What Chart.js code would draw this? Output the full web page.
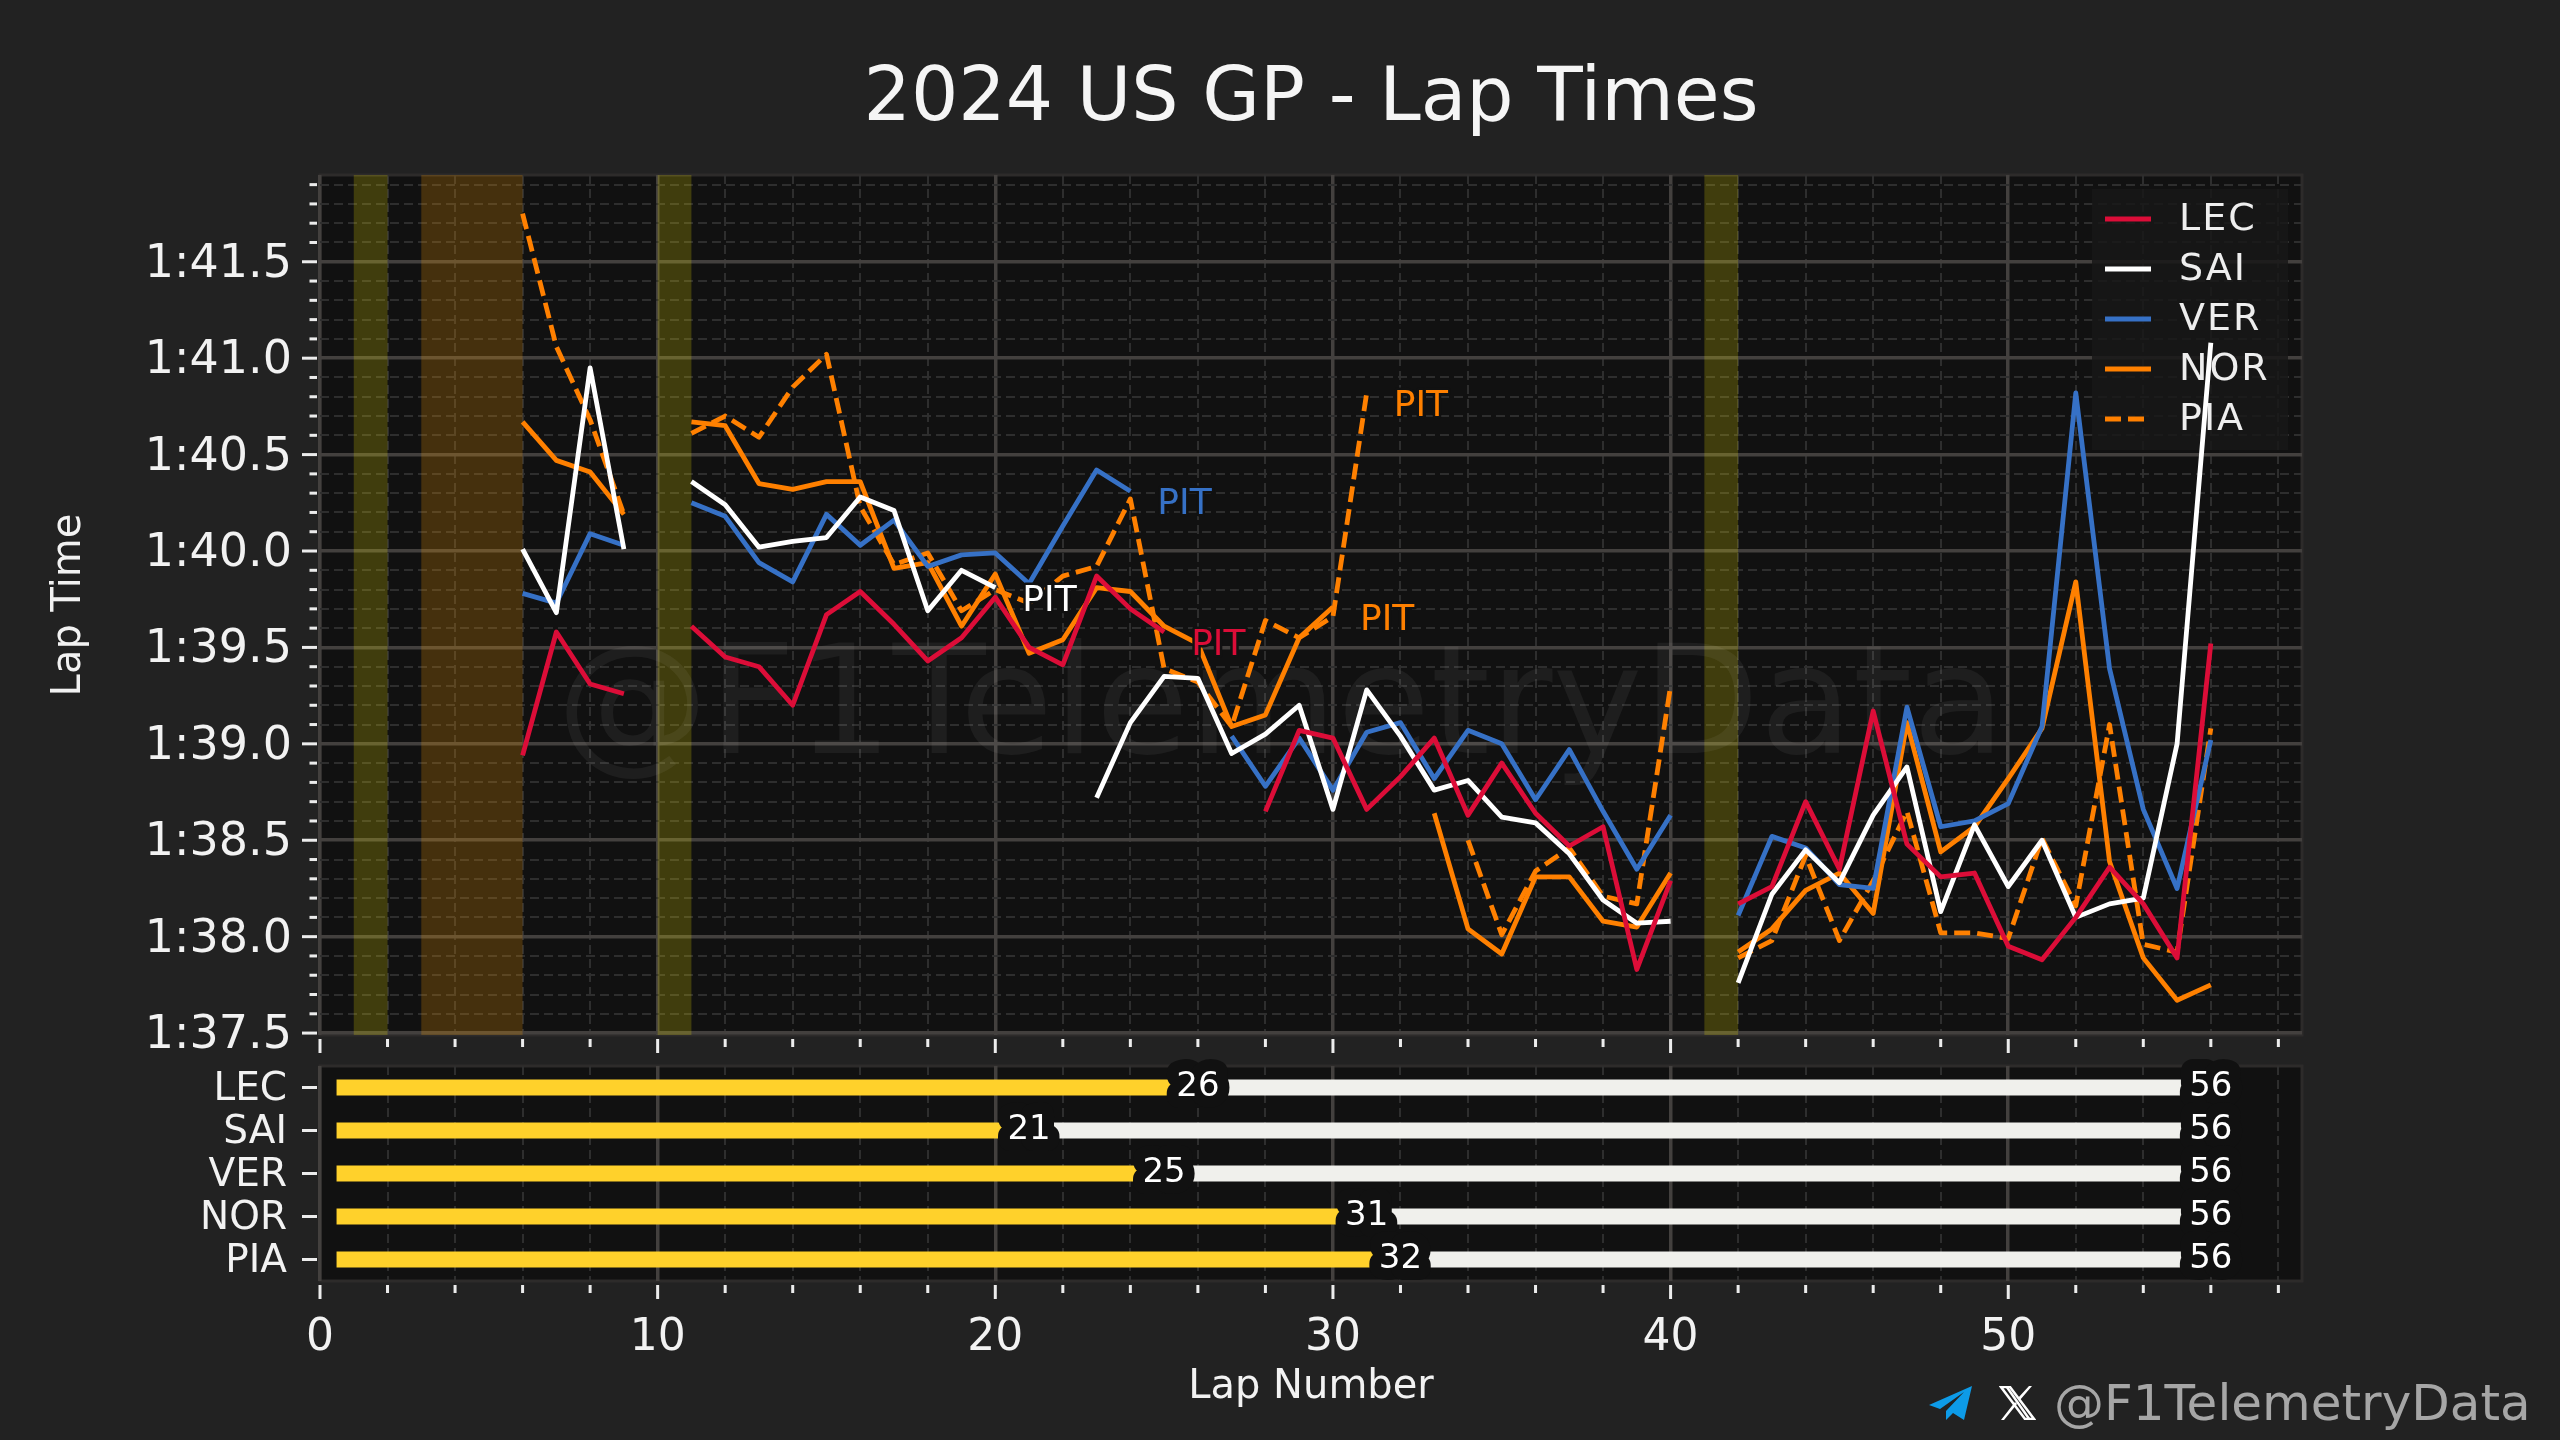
<!DOCTYPE html>
<html>
<head>
<meta charset="utf-8">
<title>2024 US GP - Lap Times</title>
<script src="https://cdn.jsdelivr.net/npm/chart.js@4"></script>
<style>
  html, body { margin: 0; padding: 0; background: #222222; }
  #page { position: relative; width: 2560px; height: 1440px; overflow: hidden; background: #222222; }
  canvas { position: absolute; left: 0; top: 0; }
  #handle { position: absolute; left: 2054px; top: 1374px; font: 50px "DejaVu Sans"; color: #a6a6a6; white-space: nowrap; }
  .icon { position: absolute; top: 1386px; height: 34px; }
</style>
</head>
<body>
<div id="page">
  <canvas id="lapChart" width="2560" height="1440"></canvas>
  <canvas id="stintChart" width="2560" height="1440"></canvas>
  <svg class="icon" style="left:1929px;width:43px" viewBox="0 0 43 34"><path fill="#0d9be8" d="M43 0 L0 19 L11 23 L35 6 L17 25 L17 34 L24 27 L35 34 Z"/></svg>
  <svg class="icon" style="left:1999px;width:37px" viewBox="0 0 37 34"><path fill="none" stroke="#ffffff" stroke-width="2.5" d="M2 1 H11 L35 33 H26 Z"/><path fill="#ffffff" d="M16 16 L2 34 H5 L18 18 Z M21 14 L33 0 H30 L19 12 Z M7 2 L28 32 H31 L10 2 Z"/></svg>
  <div id="handle">@F1TelemetryData</div>
</div>
<script>
const drivers = ["LEC", "SAI", "VER", "NOR", "PIA"];
const driverColors = ["#dc0d38", "#ffffff", "#3671c6", "#ff8000", "#ff8000"];

const laps = [6, 7, 8, 9, 10, 11, 12, 13, 14, 15, 16, 17, 18, 19, 20, 21, 22, 23, 24, 25, 26, 27, 28, 29, 30, 31,
  32, 33, 34, 35, 36, 37, 38, 39, 40, 41, 42, 43, 44, 45, 46, 47, 48, 49, 50, 51, 52, 53, 54, 55, 56];

const lecTimes = [98.94, 99.58, 99.31, 99.26, null, 99.61, 99.45, 99.40, 99.20, 99.67, 99.79, 99.62, 99.43, 99.55, 99.76,
  99.50, 99.41, 99.87, 99.70, 99.58, null, null, 98.65, 99.07, 99.03, 98.66, 98.83, 99.03, 98.63, 98.90, 98.64, 98.47, 98.57, 97.83, 98.29,
  null, 98.17, 98.26, 98.70, 98.35, 99.17, 98.48, 98.31, 98.33, 97.95, 97.88, 98.10, 98.36, 98.17, 97.89, 99.52];
const saiTimes = [100.01, 99.68, 100.95, 100.01, null, 100.36, 100.24, 100.02, 100.05, 100.07, 100.28, 100.21, 99.69, 99.90, 99.81,
  null, null, 98.72, 99.11, 99.35, 99.34, 98.95, 99.05, 99.20, 98.66, 99.28, 99.04, 98.76, 98.81, 98.62, 98.59, 98.43, 98.19, 98.07, 98.08,
  null, 97.76, 98.22, 98.45, 98.28, 98.63, 98.88, 98.13, 98.58, 98.26, 98.50, 98.10, 98.17, 98.20, 99.00, 101.08];
const verTimes = [99.78, 99.73, 100.09, 100.03, null, 100.25, 100.18, 99.94, 99.84, 100.19, 100.03, 100.16, 99.92, 99.98, 99.99,
  99.83, 100.13, 100.42, 100.31, null, null, 99.04, 98.78, 99.03, 98.76, 99.06, 99.11, 98.82, 99.07, 99.00, 98.71, 98.97, 98.65, 98.35, 98.63,
  null, 98.11, 98.52, 98.46, 98.27, 98.25, 99.19, 98.57, 98.60, 98.69, 99.09, 100.82, 99.39, 98.66, 98.25, 99.02];
const norTimes = [100.67, 100.47, 100.41, 100.19, null, 100.67, 100.65, 100.35, 100.32, 100.36, 100.36, 99.91, 99.94, 99.61, 99.88,
  99.47, 99.54, 99.81, 99.79, 99.61, 99.52, 99.09, 99.15, 99.55, 99.71, null, null, 98.64, 98.04, 97.91, 98.31, 98.31, 98.08, 98.05, 98.33,
  null, 97.92, 98.04, 98.24, 98.33, 98.12, 99.11, 98.44, 98.57, 98.82, 99.08, 99.84, 98.39, 97.89, 97.67, 97.75];
const piaTimes = [101.75, 101.06, 100.68, 100.19, null, 100.61, 100.70, 100.59, 100.85, 101.02, 100.23, 99.93, 99.99, 99.69, 99.80,
  99.73, 99.87, 99.92, 100.27, 99.39, 99.32, 99.09, 99.64, 99.55, 99.66, 100.82, null, null, 98.50, 98.01, 98.34, 98.46, 98.21, 98.17, 99.30,
  null, 97.89, 97.98, 98.42, 97.98, 98.29, 98.65, 98.02, 98.02, 97.99, 98.51, 98.16, 99.10, 97.96, 97.92, 99.08];
const driverTimes = [lecTimes, saiTimes, verTimes, norTimes, piaTimes];

const pitLaps = [26, 21, 25, 31, 32];
const raceLaps = [56, 56, 56, 56, 56];
const stintStart = 0.5;

const yellowFlags = [[1, 2], [10, 11], [41, 42]];
const redFlags = [[3, 6]];

const yTicks = [97.5, 97.6, 97.7, 97.8, 97.9, 98, 98.1, 98.2, 98.3, 98.4, 98.5, 98.6, 98.7, 98.8, 98.9, 99, 99.1, 99.2, 99.3, 99.4,
  99.5, 99.6, 99.7, 99.8, 99.9, 100, 100.1, 100.2, 100.3, 100.4, 100.5, 100.6, 100.7, 100.8, 100.9, 101, 101.1, 101.2, 101.3, 101.4,
  101.5, 101.6, 101.7, 101.8, 101.9];
const yMajor = [97.5, 98, 98.5, 99, 99.5, 100, 100.5, 101, 101.5];
const yLabels = ["1:37.5", "1:38.0", "1:38.5", "1:39.0", "1:39.5", "1:40.0", "1:40.5", "1:41.0", "1:41.5"];
const xTicks = [0, 2, 4, 6, 8, 10, 12, 14, 16, 18, 20, 22, 24, 26, 28, 30, 32, 34, 36, 38, 40, 42, 44, 46, 48, 50, 52, 54, 56, 58];

const FONT = "DejaVu Sans";
const GRID_MAJOR = "#43403e";
const GRID_MINOR = "#2e2e2e";
const PANEL = "#111111";
const TICK = "#ececec";

function setMajorTicks(scale, values, majors) {
  scale.ticks = values.map(v => ({ value: v, major: majors.includes(v) }));
}

function xScale(showLabels) {
  return {
    type: "linear",
    min: 0,
    max: 58.7,
    afterBuildTicks: s => setMajorTicks(s, xTicks, [0, 10, 20, 30, 40, 50]),
    afterFit: s => { s.height = showLabels ? 159 : 405; },
    border: {
      display: false,
      dash: c => (c.tick && c.tick.major ? [] : [9, 5])
    },
    grid: {
      color: c => (c.tick && c.tick.major ? GRID_MAJOR : GRID_MINOR),
      lineWidth: c => (c.tick && c.tick.major ? 3.5 : 2),
      tickLength: 25,
      tickColor: "transparent"
    },
    ticks: {
      display: showLabels,
      color: "#f2f2f2",
      font: { family: FONT, size: 44 },
      padding: 6,
      maxRotation: 0,
      autoSkip: false,
      callback: v => (v % 10 === 0 ? String(v) : "")
    },
    title: {
      display: showLabels,
      text: "Lap Number",
      color: "#f2f2f2",
      font: { family: FONT, size: 40 },
      padding: { top: 0, bottom: 28 }
    }
  };
}

// panel fill and the frame round it
const panelPlugin = {
  id: "panel",
  beforeDraw(chart) {
    const a = chart.chartArea, ctx = chart.ctx;
    ctx.save();
    ctx.fillStyle = PANEL;
    ctx.fillRect(a.left, a.top, a.width, a.height);
    ctx.strokeStyle = "#2d2b2a";
    ctx.lineWidth = 3;
    ctx.strokeRect(a.left, a.top, a.width, a.height);
    ctx.restore();
  }
};

// tick marks: long on major and short on minor, with a small gap from the frame
const tickMarkPlugin = {
  id: "tickMarks",
  afterDraw(chart) {
    const a = chart.chartArea, ctx = chart.ctx;
    ctx.save();
    ctx.fillStyle = TICK;
    const sx = chart.scales.x;
    sx.ticks.forEach((t, i) => {
      const px = sx.getPixelForTick(i);
      const len = t.major ? 14 : 8;
      ctx.fillRect(px - 1.5, a.bottom + 4, 3, len);
    });
    const sy = chart.scales.y;
    sy.ticks.forEach((t, i) => {
      const py = sy.getPixelForTick(i);
      const len = t.major || sy.type === "category" ? 15 : 7.5;
      ctx.fillRect(a.left - 3 - len, py - 1.5, len, 3);
    });
    ctx.restore();
  }
};

const flagPlugin = {
  id: "flags",
  beforeDatasetsDraw(chart) {
    const a = chart.chartArea, ctx = chart.ctx, sx = chart.scales.x;
    ctx.save();
    ctx.fillStyle = "rgba(255, 240, 0, 0.2)";
    yellowFlags.forEach(f => {
      const x0 = sx.getPixelForValue(f[0]), x1 = sx.getPixelForValue(f[1]);
      ctx.fillRect(x0, a.top, x1 - x0, a.height);
    });
    ctx.fillStyle = "rgba(255, 160, 0, 0.22)";
    redFlags.forEach(f => {
      const x0 = sx.getPixelForValue(f[0]), x1 = sx.getPixelForValue(f[1]);
      ctx.fillRect(x0, a.top, x1 - x0, a.height);
    });
    // watermark
    ctx.font = "152px " + FONT;
    ctx.fillStyle = "rgba(255, 255, 255, 0.055)";
    ctx.textAlign = "center";
    ctx.textBaseline = "middle";
    ctx.fillText("@F1TelemetryData", 1281, 714);
    // legend sits under the lines
    ctx.fillStyle = "rgba(24, 24, 24, 0.85)";
    ctx.fillRect(2092, 189, 196, 261);
    ctx.font = "38px " + FONT;
    ctx.letterSpacing = "2px";
    ctx.textAlign = "left";
    drivers.forEach((d, i) => {
      const y = 219 + i * 50;
      ctx.strokeStyle = driverColors[i];
      ctx.lineWidth = 4.8;
      ctx.setLineDash(d === "PIA" ? [16, 7] : []);
      ctx.beginPath();
      ctx.moveTo(2105, y);
      ctx.lineTo(2151, y);
      ctx.stroke();
      ctx.fillStyle = "#eeeeee";
      ctx.fillText(d, 2179, y + 1);
    });
    ctx.restore();
  }
};

// PIT text next to the last lap before each stop
const pitPlugin = {
  id: "pitLabels",
  afterDatasetsDraw(chart) {
    const ctx = chart.ctx, sx = chart.scales.x, sy = chart.scales.y;
    ctx.save();
    ctx.font = "36px " + FONT;
    ctx.textAlign = "left";
    ctx.textBaseline = "middle";
    ctx.lineJoin = "round";
    pitLaps.forEach((lap, i) => {
      const last = driverTimes[i][laps.indexOf(lap - 1)];
      const x = sx.getPixelForValue(lap - 0.2);
      const y = sy.getPixelForValue(last - 0.07);
      ctx.lineWidth = 5;
      ctx.strokeStyle = "#111111";
      ctx.strokeText("PIT", x, y);
      ctx.fillStyle = driverColors[i];
      ctx.fillText("PIT", x, y);
    });
    ctx.restore();
  }
};

// stint numbers with a dark halo that bites into the bars
const stintLabelPlugin = {
  id: "stintLabels",
  afterDatasetsDraw(chart) {
    const ctx = chart.ctx, sx = chart.scales.x, sy = chart.scales.y;
    ctx.save();
    ctx.font = "34px " + FONT;
    ctx.textAlign = "center";
    ctx.textBaseline = "middle";
    ctx.lineJoin = "round";
    drivers.forEach((d, i) => {
      [pitLaps[i], raceLaps[i]].forEach(lap => {
        const x = sx.getPixelForValue(lap);
        const y = sy.getPixelForValue(i);
        ctx.lineWidth = 24;
        ctx.strokeStyle = "#111111";
        ctx.strokeText(String(lap), x, y);
        ctx.fillStyle = "#ffffff";
        ctx.fillText(String(lap), x, y);
      });
    });
    ctx.restore();
  }
};

new Chart(document.getElementById("lapChart"), {
  type: "line",
  data: {
    datasets: drivers.map((d, i) => ({
      label: d,
      data: laps.map((lap, k) => ({ x: lap, y: driverTimes[i][k] })),
      borderColor: driverColors[i],
      borderWidth: 4.8,
      borderDash: d === "PIA" ? [16, 7] : [],
      borderCapStyle: "butt",
      borderJoinStyle: "round",
      pointRadius: 0,
      tension: 0,
      spanGaps: false
    }))
  },
  options: {
    responsive: false,
    animation: false,
    devicePixelRatio: 1,
    layout: { padding: { left: 0, top: 0, right: 258, bottom: 0 } },
    plugins: {
      legend: { display: false },
      tooltip: { enabled: false },
      title: {
        display: true,
        text: "2024 US GP - Lap Times",
        color: "#f5f5f5",
        fullSize: false,
        font: { family: FONT, size: 74.5, weight: "normal", lineHeight: 1.2 },
        padding: { top: 56, bottom: 29.6 }
      }
    },
    scales: {
      x: xScale(false),
      y: {
        min: 97.49,
        max: 101.95,
        afterBuildTicks: s => setMajorTicks(s, yTicks, yMajor),
        afterFit: s => { s.width = 320; },
        border: {
          display: false,
          dash: c => (c.tick && c.tick.major ? [] : [9, 5])
        },
        grid: {
          color: c => (c.tick && c.tick.major ? GRID_MAJOR : GRID_MINOR),
          lineWidth: c => (c.tick && c.tick.major ? 3.5 : 2),
          tickLength: 22,
          tickColor: "transparent"
        },
        ticks: {
          color: "#f2f2f2",
          font: { family: FONT, size: 46 },
          padding: 6,
          labelOffset: 3,
          autoSkip: false,
          callback: v => {
            const k = yMajor.indexOf(v);
            return k >= 0 ? yLabels[k] : "";
          }
        },
        title: {
          display: true,
          text: "Lap Time",
          color: "#f2f2f2",
          font: { family: FONT, size: 40 },
          padding: { top: 46, bottom: 0 }
        }
      }
    }
  },
  plugins: [panelPlugin, flagPlugin, pitPlugin, tickMarkPlugin]
});

new Chart(document.getElementById("stintChart"), {
  type: "bar",
  data: {
    labels: drivers,
    datasets: [
      {
        label: "Stint 1",
        data: pitLaps.map(lap => [stintStart, lap]),
        backgroundColor: "#ffd12b",
        barThickness: 15.5,
        grouped: false
      },
      {
        label: "Stint 2",
        data: pitLaps.map((lap, i) => [lap, raceLaps[i]]),
        backgroundColor: "#f0f0ec",
        barThickness: 15.5,
        grouped: false
      }
    ]
  },
  options: {
    indexAxis: "y",
    responsive: false,
    animation: false,
    devicePixelRatio: 1,
    layout: { padding: { left: 0, top: 1066, right: 258, bottom: 0 } },
    plugins: {
      legend: { display: false },
      tooltip: { enabled: false }
    },
    scales: {
      x: xScale(true),
      y: {
        type: "category",
        afterFit: s => { s.width = 320; },
        border: { display: false },
        grid: { display: false, tickLength: 22 },
        ticks: {
          color: "#f2f2f2",
          font: { family: FONT, size: 39 },
          padding: 11,
          labelOffset: 2,
          autoSkip: false
        }
      }
    }
  },
  plugins: [panelPlugin, stintLabelPlugin, tickMarkPlugin]
});
</script>
</body>
</html>
